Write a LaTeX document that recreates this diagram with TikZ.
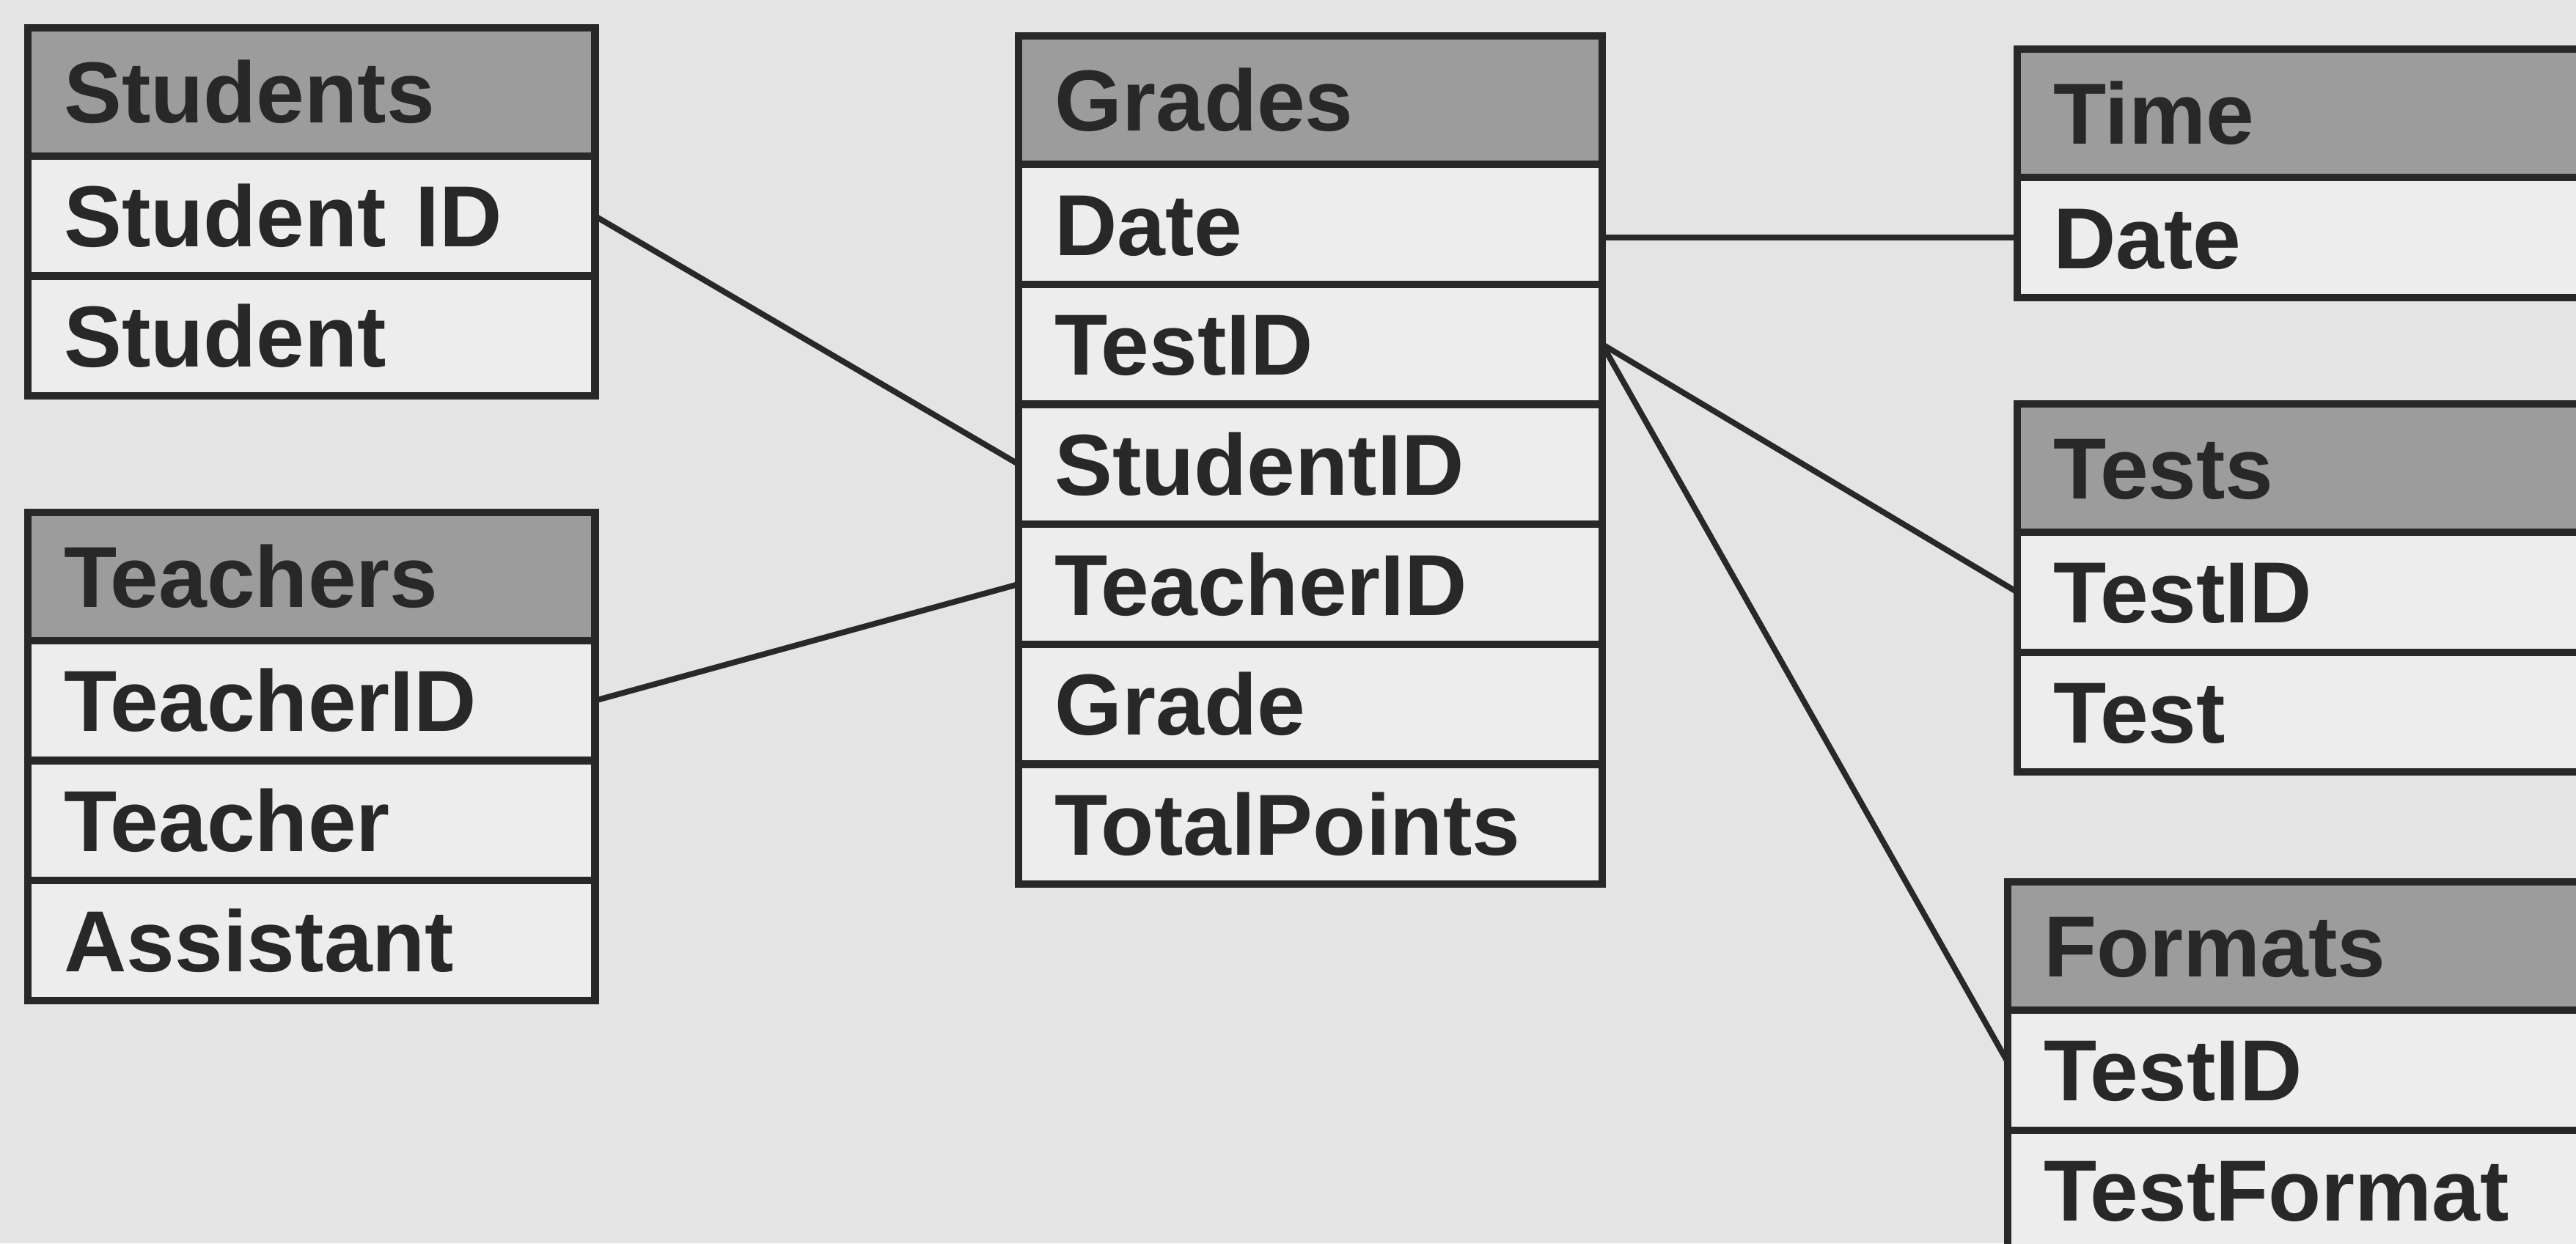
\documentclass[tikz,border=0pt]{standalone}
\usepackage{fontspec}
\setmainfont{Liberation Sans}
\usetikzlibrary{positioning}
\definecolor{paper}{HTML}{E4E4E4}
\definecolor{cellfill}{HTML}{EDEDED}
\definecolor{headfill}{HTML}{9C9C9C}
\definecolor{ink}{HTML}{282828}

\begin{document}
\begin{tikzpicture}[x=0.01cm,y=-0.01cm]
\tikzstyle{every node}+=[inner ysep=0pt,inner xsep=0.22cm,outer sep=0pt]
\tikzstyle{cell}=[rectangle,draw=ink,line width=1.3pt,fill=cellfill,text=ink,minimum height=0.73cm,text height=10.7pt,text depth=0pt,align=left,font=\fontsize{15}{18}\selectfont\bfseries]
\tikzstyle{head}=[cell,fill=headfill,minimum height=0.78cm]
\tikzstyle{narrowtab}=[text width=3.01cm]
\tikzstyle{midtab}=[text width=3.11cm]
\tikzstyle{cuttab}=[text width=4.2cm]
\tikzstyle{link}=[draw=ink,line width=1pt]
\useasboundingbox (0,0) rectangle (1568,757);
\fill [paper] (0,0) rectangle (1568,757);
\clip (0,0) rectangle (1568,757);

\node [head,narrowtab,anchor=north west] (stuhead) at (17,17) {Students};
\node [cell,narrowtab,below=0pt of stuhead] (stuid) {Student ID};
\node [cell,narrowtab,below=0pt of stuid] (stuname) {Student};

\node [head,narrowtab,anchor=north west] (teahead) at (17,312) {Teachers};
\node [cell,narrowtab,below=0pt of teahead] (teaid) {TeacherID};
\node [cell,narrowtab,below=0pt of teaid] (teaname) {Teacher};
\node [cell,narrowtab,below=0pt of teaname] (teaasst) {Assistant};

\node [head,midtab,anchor=north west] (grdhead) at (620,22) {Grades};
\node [cell,midtab,below=0pt of grdhead] (grddate) {Date};
\node [cell,midtab,below=0pt of grddate] (grdtest) {TestID};
\node [cell,midtab,below=0pt of grdtest] (grdstu) {StudentID};
\node [cell,midtab,below=0pt of grdstu] (grdtea) {TeacherID};
\node [cell,midtab,below=0pt of grdtea] (grdgrade) {Grade};
\node [cell,midtab,below=0pt of grdgrade] (grdpts) {TotalPoints};

\node [head,cuttab,anchor=north west] (timhead) at (1228,30) {Time};
\node [cell,cuttab,below=0pt of timhead] (timdate) {Date};

\node [head,cuttab,anchor=north west] (tsthead) at (1228,246) {Tests};
\node [cell,cuttab,below=0pt of tsthead] (tstid) {TestID};
\node [cell,cuttab,below=0pt of tstid] (tstname) {Test};

\node [head,cuttab,anchor=north west] (fmthead) at (1222,537) {Formats};
\node [cell,cuttab,below=0pt of fmthead] (fmtid) {TestID};
\node [cell,cuttab,below=0pt of fmtid] (fmtname) {TestFormat};

\draw [link] (stuid.east) -- (grdstu.west);
\draw [link] (teaid.east) -- (grdtea.west);
\draw [link] (timdate.west) -- (timdate.west -| grddate.east);
\draw [link] (grdtest.east) -- (tstid.west);
\draw [link] (grdtest.east) -- ([yshift=0.5mm]fmtid.west);
\end{tikzpicture}
\end{document}
